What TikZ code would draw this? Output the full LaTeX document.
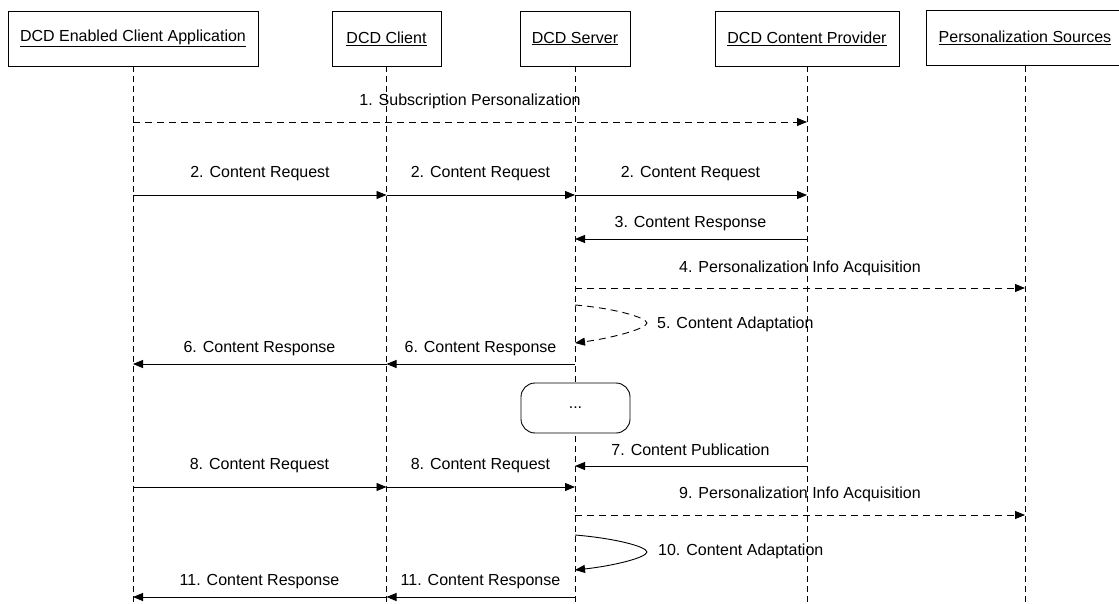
\documentclass[tikz,border=0pt]{standalone}
\usepackage{fontspec}
\setmainfont{Liberation Sans}
\usetikzlibrary{arrows.meta}
\begin{document}
\begin{tikzpicture}[x=1pt,y=-1pt,
  font=\fontsize{16}{19}\selectfont,
  head/.style={draw, line width=0.9pt, minimum height=55pt, inner sep=0pt},
  life/.style={line width=0.8pt, dash pattern=on 6pt off 4pt},
  msg/.style={line width=0.9pt, -{Triangle[length=10pt,width=8pt]}},
  amsg/.style={msg, dash pattern=on 7pt off 5pt},
  lbl/.style={inner sep=0pt, text height=11.5pt, text depth=3.4pt},
  dotsbox/.style={draw, line width=0.9pt, rounded corners=14pt, minimum width=109pt, minimum height=50pt, inner sep=0pt}]
\useasboundingbox (0,0) rectangle (1119,604);
\clip (0,0) rectangle (1119,604);
% heads
\node[head, minimum width=250pt] (A) at (133,38.5) {\underline{DCD Enabled Client Application}};
\node[head, minimum width=109pt] (B) at (386.5,38.5) {\underline{DCD Client}};
\node[head, minimum width=110pt] (C) at (575,38.5) {\underline{DCD Server}};
\node[head, minimum width=184pt] (D) at (807,38.5) {\underline{DCD Content Provider}};
\node[head, minimum width=198pt] (E) at (1025,38) {\underline{Personalization Sources}};
\coordinate (bot) at (0,604);
% lifelines
\foreach \n in {A,B,C,D,E} \draw[life] (\n.south) -- (\n.south |- bot);
% dots box
\node[dotsbox, fill=white] (dots) at (575.5,408) {...};
% 1
\draw[amsg] (A |- 0,122) -- (D |- 0,122);
\node[lbl] (l1) at (470,101) {1. Subscription Personalization};
% 2
\draw[msg] (A |- 0,195) -- (B |- 0,195);
\draw[msg] (B |- 0,195) -- (C |- 0,195);
\draw[msg] (C |- 0,195) -- (D |- 0,195);
\node[lbl] (l2a) at (260,173) {2. Content Request};
\node[lbl] (l2b) at (480.5,173) {2. Content Request};
\node[lbl] (l2c) at (690.5,173) {2. Content Request};
% 3
\draw[msg] (D |- 0,239) -- (C |- 0,239);
\node[lbl] (l3) at (690.5,223) {3. Content Response};
% 4
\draw[amsg] (C |- 0,288) -- (E |- 0,288);
\node[lbl] (l4) at (800,268) {4. Personalization Info Acquisition};
% 5
\draw[amsg] (C |- 0,305) .. controls (612,308) and (646,317) .. (647,323)
  .. controls (646,329) and (612,338) .. (C |- 0,343);
\node[lbl, anchor=west] (l5) at (657,324) {5. Content Adaptation};
% 6
\draw[msg] (C |- 0,364) -- (B |- 0,364);
\draw[msg] (B |- 0,364) -- (A |- 0,364);
\node[lbl] (l6a) at (259.5,348) {6. Content Response};
\node[lbl] (l6b) at (480.5,348) {6. Content Response};
% 7
\draw[msg] (D |- 0,466) -- (C |- 0,466);
\node[lbl] (l7) at (690.5,451) {7. Content Publication};
% 8
\draw[msg] (A |- 0,487) -- (B |- 0,487);
\draw[msg] (B |- 0,487) -- (C |- 0,487);
\node[lbl] (l8a) at (259.5,465) {8. Content Request};
\node[lbl] (l8b) at (480.5,465) {8. Content Request};
% 9
\draw[amsg] (C |- 0,515) -- (E |- 0,515);
\node[lbl] (l9) at (800,494) {9. Personalization Info Acquisition};
% 10
\draw[msg] (C |- 0,535) .. controls (612,538) and (646,546) .. (647,552)
  .. controls (646,558) and (612,566) .. (C |- 0,570);
\node[lbl, anchor=west] (l10) at (658,551) {10. Content Adaptation};
% 11
\draw[msg] (C |- 0,597) -- (B |- 0,597);
\draw[msg] (B |- 0,597) -- (A |- 0,597);
\node[lbl] (l11a) at (259.5,581) {11. Content Response};
\node[lbl] (l11b) at (480.5,581) {11. Content Response};
\end{tikzpicture}
\end{document}
